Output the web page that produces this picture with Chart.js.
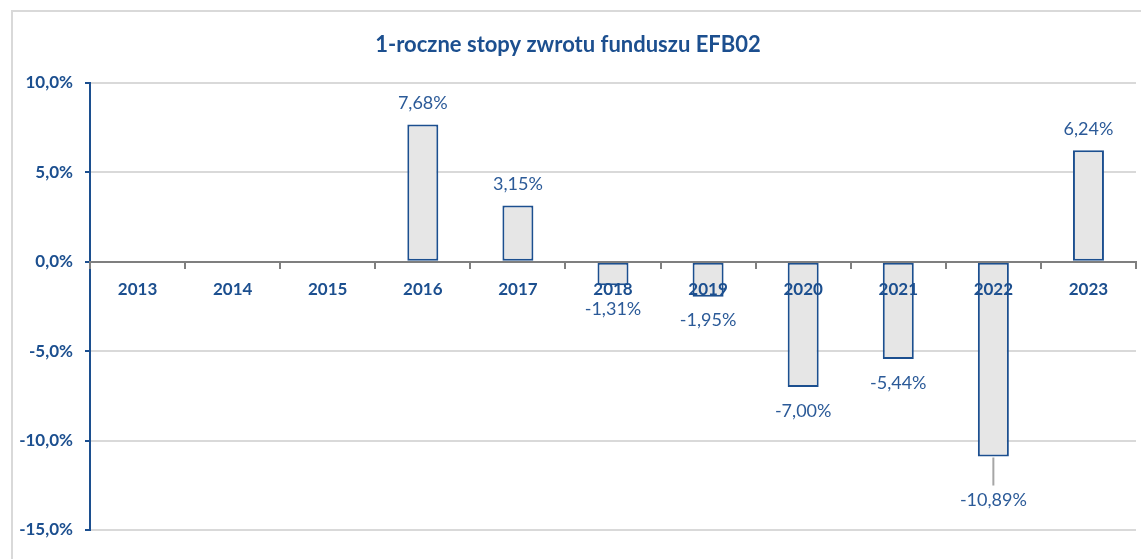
<!DOCTYPE html>
<html>
<head>
<meta charset="utf-8">
<script src="https://cdn.jsdelivr.net/npm/chart.js@4.4.1/dist/chart.umd.min.js"></script>
<style>
  html, body { margin: 0; padding: 0; background: #ffffff; }
  #wrap { position: relative; width: 1141px; height: 559px; overflow: hidden; }
  #frame { position: absolute; left: 11px; top: 10px; width: 1200px; height: 600px;
           border-left: 2px solid #d9d9d9; border-top: 2px solid #d9d9d9; }
  canvas { position: absolute; left: 0; top: 0; }
</style>
</head>
<body>
<div id="wrap">
  <div id="frame"></div>
  <canvas id="c" width="1141" height="559"></canvas>
</div>
<script>
const titleText = '1-roczne stopy zwrotu funduszu EFB02';
const categories = ['2013', '2014', '2015', '2016', '2017', '2018', '2019', '2020', '2021', '2022', '2023'];
const returns = [null, null, null, 7.68, 3.15, -1.31, -1.95, -7.00, -5.44, -10.89, 6.24];
const yTicks = [-15, -10, -5, 0, 5, 10];

const DARK = '#1c4f8f';
const LABEL = '#2b5a98';
const FONT = 'Lato, "Open Sans", "DejaVu Sans", sans-serif';

const fmt = (v, d) => v.toFixed(d).replace('.', ',') + '%';

const dataLabels = {
  id: 'dataLabels',
  afterDatasetsDraw(chart, args, opts) {
    const ctx = chart.ctx;
    const meta = chart.getDatasetMeta(0);
    const ds = chart.data.datasets[0].data;
    ctx.save();
    ctx.font = '18px ' + FONT;
    ctx.fillStyle = LABEL;
    ctx.textAlign = 'center';
    ctx.textBaseline = 'middle';
    meta.data.forEach((bar, i) => {
      const v = ds[i];
      if (v === null || v === undefined) return;
      const cat = chart.data.labels[i];
      const extra = (opts.shift && opts.shift[cat]) || 0;
      let y;
      if (v >= 0) {
        y = bar.y - opts.above;
      } else {
        y = bar.y + opts.below + extra;
        if (extra) {
          ctx.save();
          ctx.strokeStyle = '#a6a6a6';
          ctx.lineWidth = 2;
          ctx.beginPath();
          ctx.moveTo(bar.x, bar.y + 1);
          ctx.lineTo(bar.x, y - 15);
          ctx.stroke();
          ctx.restore();
        }
      }
      ctx.fillText(fmt(v, 2), bar.x, y);
    });
    ctx.restore();
  }
};

new Chart(document.getElementById('c'), {
  type: 'bar',
  data: {
    labels: categories,
    datasets: [{
      data: returns,
      backgroundColor: '#e6e6e6',
      borderColor: '#1c4f8f',
      borderWidth: 2,
      borderSkipped: false,
      categoryPercentage: 1,
      barPercentage: 0.326
    }]
  },
  options: {
    responsive: false,
    animation: false,
    devicePixelRatio: 1,
    layout: { padding: { left: 0, right: 5, bottom: 29, top: 0 } },
    plugins: {
      legend: { display: false },
      tooltip: { enabled: false },
      title: {
        display: true,
        text: titleText,
        color: DARK,
        font: { family: FONT, size: 22, weight: 'bold', lineHeight: 1.2 },
        padding: { top: 32, bottom: 24.6 }
      },
      dataLabels: { above: 21, below: 24, shift: { '2022': 20 } }
    },
    scales: {
      x: {
        position: { y: 0 },
        offset: true,
        grid: { drawOnChartArea: false, drawTicks: true, tickLength: 6, color: '#7f7f7f', lineWidth: 2, offset: true, z: 1 },
        border: { color: '#7f7f7f', width: 2, z: 1 },
        ticks: { z: 1, color: DARK, font: { family: FONT, size: 17, weight: 'bold' }, padding: 12, maxRotation: 0 }
      },
      y: {
        min: -15,
        max: 10,
        afterFit(scale) { scale.width = 90; },
        afterBuildTicks(scale) { scale.ticks = yTicks.map(v => ({ value: v })); },
        grid: { color: '#d9d9d9', lineWidth: 2, tickLength: 5, tickColor: DARK, drawTicks: true },
        border: { color: DARK, width: 2 },
        ticks: {
          color: DARK,
          font: { family: FONT, size: 17, weight: 'bold' },
          padding: 12,
          callback: (v) => fmt(v, 1)
        }
      }
    }
  },
  plugins: [dataLabels]
});
</script>
</body>
</html>
